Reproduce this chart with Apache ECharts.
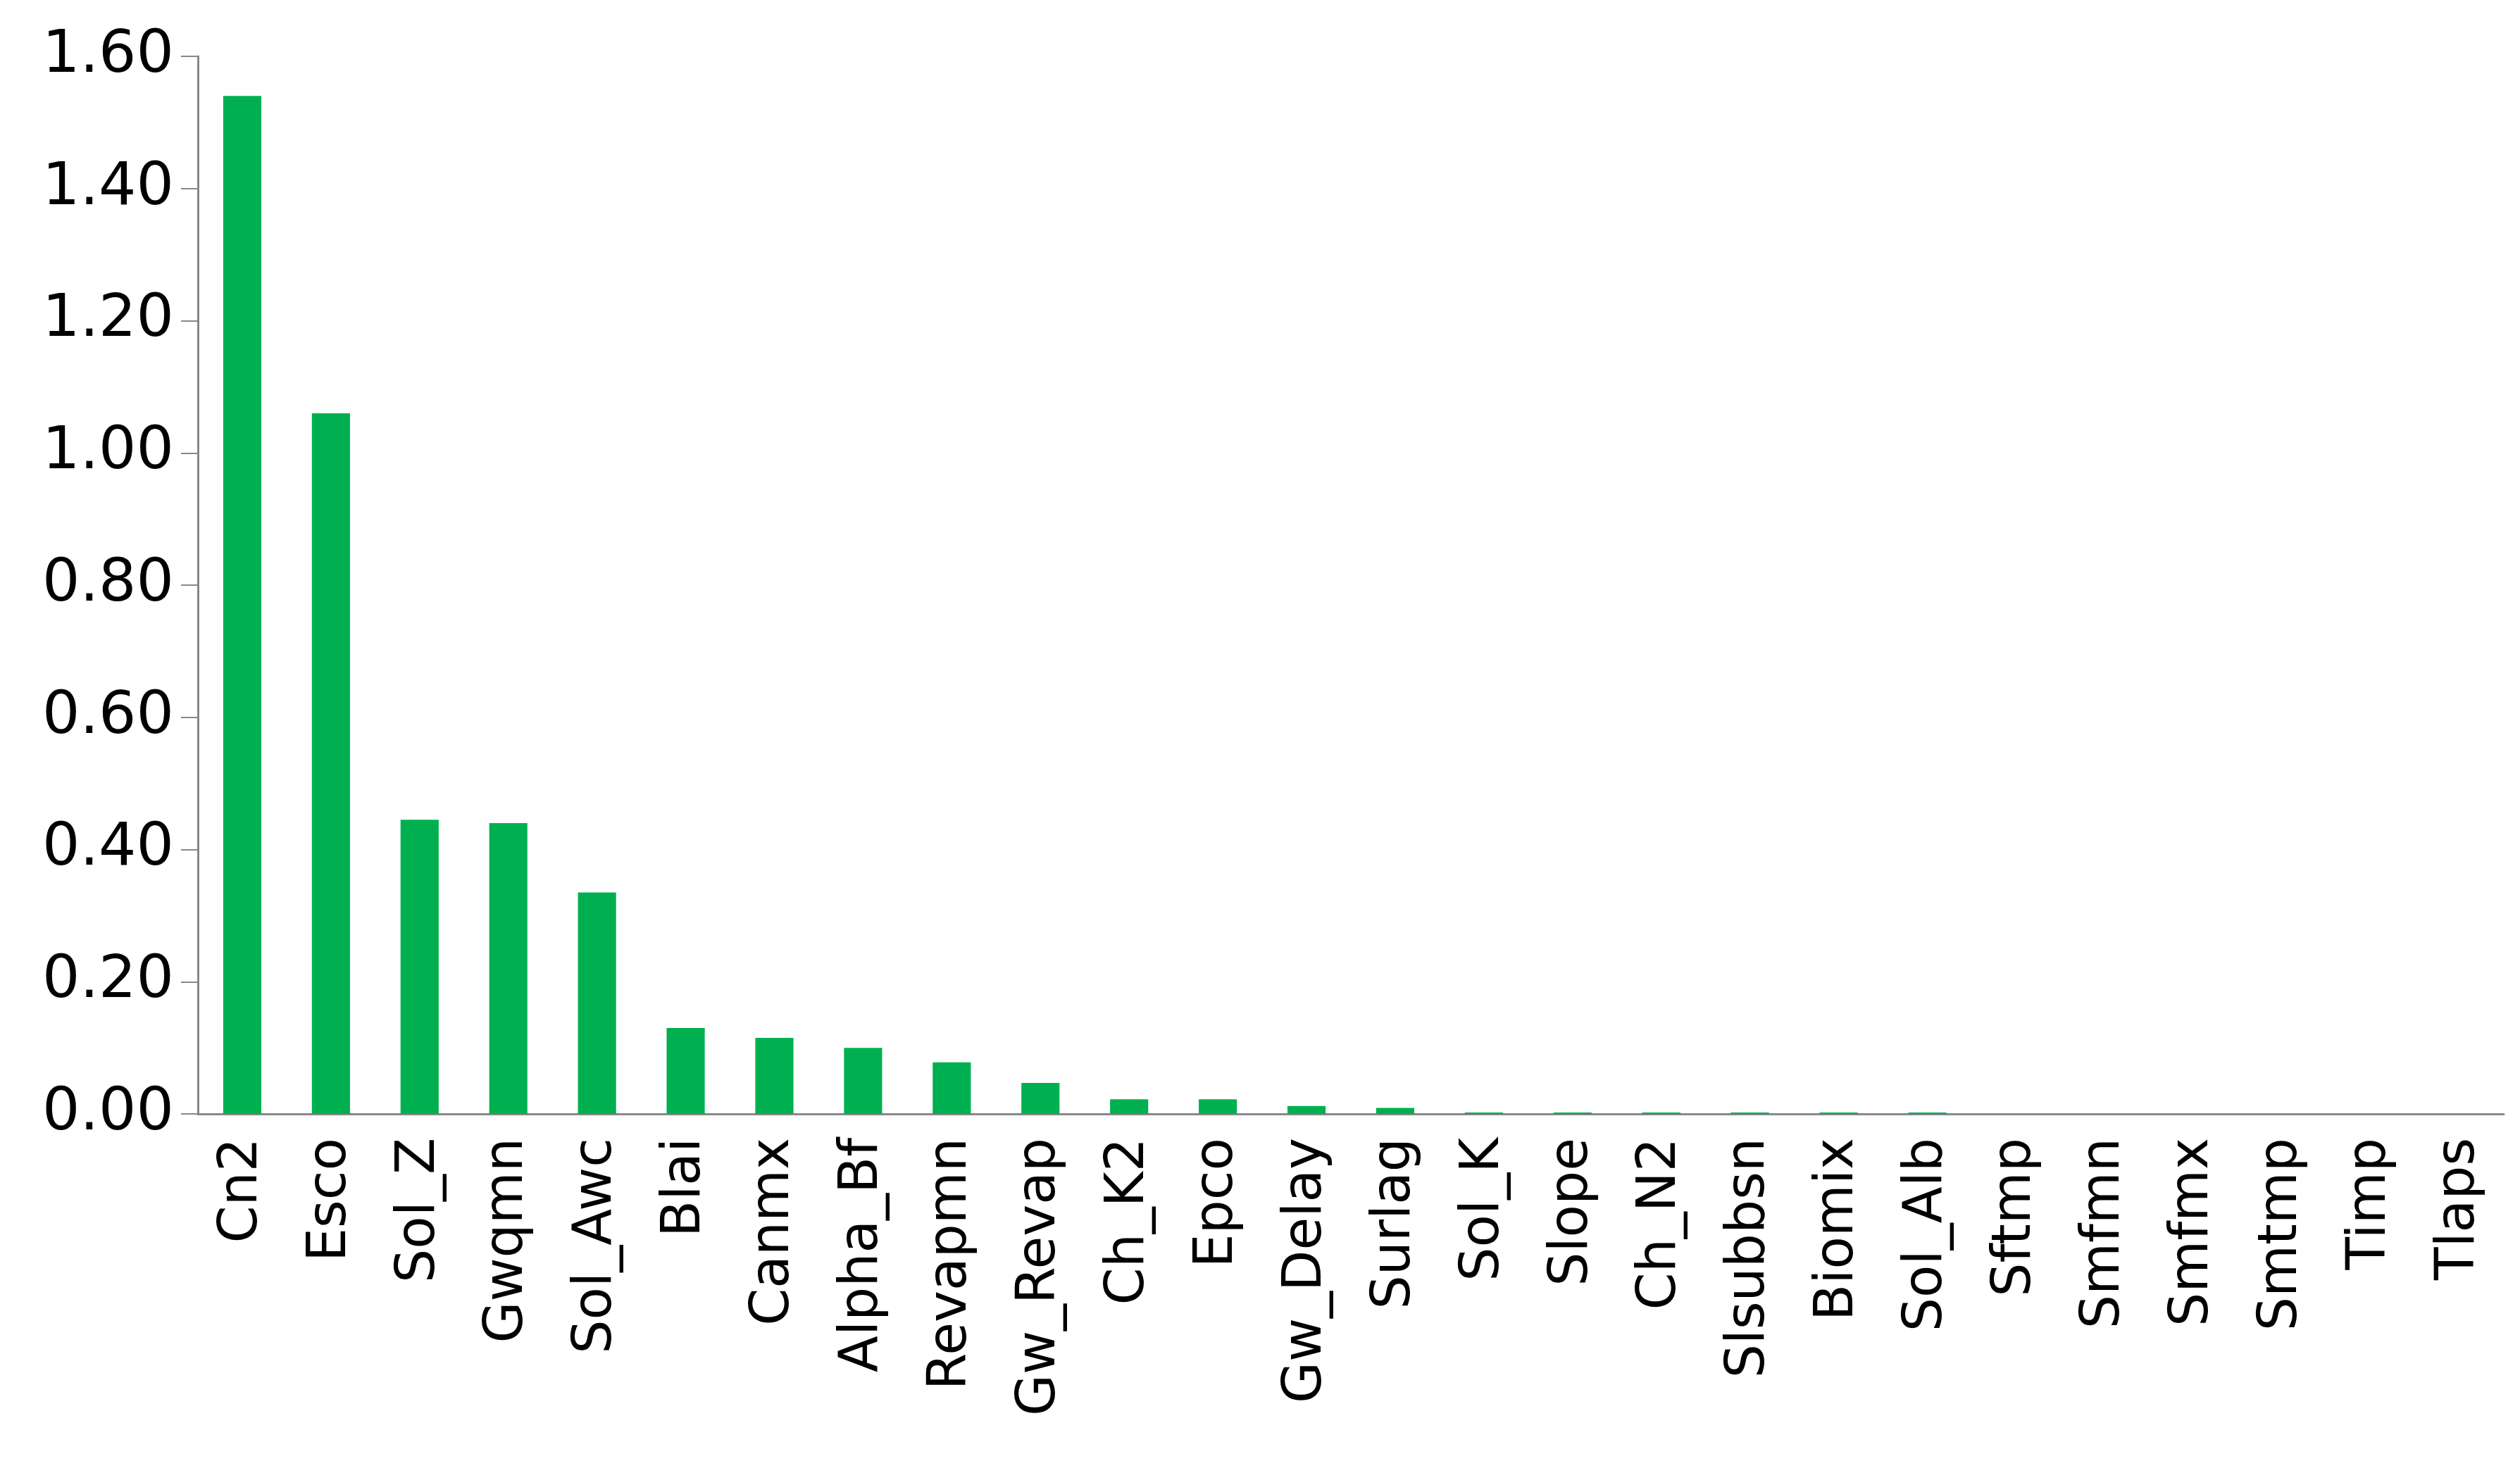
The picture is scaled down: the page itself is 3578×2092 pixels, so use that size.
<!DOCTYPE html>
<html>
<head>
<meta charset="utf-8">
<script src="https://cdn.jsdelivr.net/npm/echarts@6/dist/echarts.min.js"></script>
<style>html,body{margin:0;background:#fff}#chart{width:3578px;height:2092px}</style>
</head>
<body>
<div id="chart"></div>
<script>
var categories = ['Cn2', 'Esco', 'Sol_Z', 'Gwqmn', 'Sol_Awc', 'Blai', 'Canmx', 'Alpha_Bf', 'Revapmn', 'Gw_Revap',
    'Ch_K2', 'Epco', 'Gw_Delay', 'Surlag', 'Sol_K', 'Slope', 'Ch_N2', 'Slsubbsn', 'Biomix', 'Sol_Alb',
    'Sftmp', 'Smfmn', 'Smfmx', 'Smtmp', 'Timp', 'Tlaps'];
var values = [1.54, 1.06, 0.445, 0.44, 0.335, 0.13, 0.115, 0.1, 0.078, 0.047,
    0.022, 0.022, 0.012, 0.009, 0.002, 0.002, 0.002, 0.002, 0.002, 0.002,
    0, 0, 0, 0, 0, 0];
var yTicks = { min: 0, max: 1.6, interval: 0.2 };

var chart = echarts.init(document.getElementById('chart'));
var axisColor = '#888888';
var option = {
    animation: false,
    grid: { left: 281, right: 23, top: 80, bottom: 510 },
    xAxis: {
        type: 'category',
        data: categories,
        axisLine: { lineStyle: { color: axisColor, width: 3 } },
        axisTick: { alignWithLabel: false, length: 60, lineStyle: { color: axisColor, width: 2 } },
        axisLabel: { rotate: 90, interval: 0, fontSize: 76, color: '#000', fontFamily: 'DejaVu Sans', margin: 34 }
    },
    yAxis: {
        type: 'value',
        min: yTicks.min,
        max: yTicks.max,
        interval: yTicks.interval,
        splitLine: { show: false },
        axisLine: { show: true, lineStyle: { color: axisColor, width: 3 } },
        axisTick: { show: true, length: 24, lineStyle: { color: axisColor, width: 2 } },
        axisLabel: {
            fontSize: 84, color: '#000', fontFamily: 'DejaVu Sans', margin: 34,
            formatter: function (v) { return v.toFixed(2); }
        }
    },
    series: [{
        type: 'bar',
        data: values,
        barWidth: '43%',
        itemStyle: { color: '#00B050' }
    }]
};
chart.setOption(option);
</script>
</body>
</html>
